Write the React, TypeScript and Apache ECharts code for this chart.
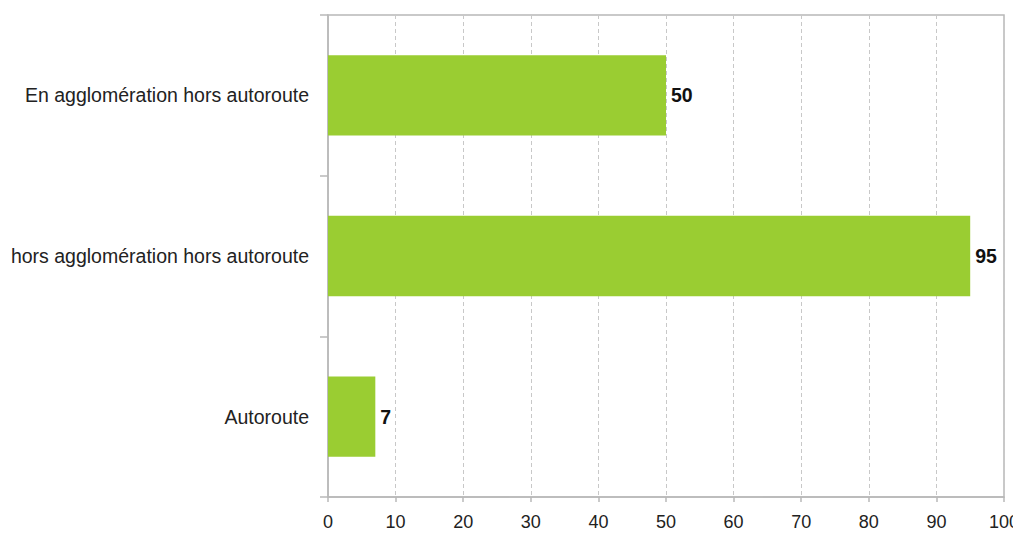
import React, { useEffect, useRef } from "react";
import * as echarts from "echarts";

const categories = ["Autoroute", "hors agglomération hors autoroute", "En agglomération hors autoroute"];
const values = [7, 95, 50];
const xTicks = { min: 0, max: 100, interval: 10 };

const FONT = "'Liberation Sans', Arial, sans-serif";

export default function App() {
  const ref = useRef<HTMLDivElement>(null);
  useEffect(() => {
    const chart = echarts.init(ref.current!, null, { renderer: "svg" });
    chart.setOption({
      animation: false,
      grid: {
        left: 328,
        right: 17,
        top: 15,
        bottom: 50,
        containLabel: false,
        outerBoundsMode: "none",
        show: true,
        borderColor: "#b8b8b8",
        borderWidth: 1.5,
      },
      xAxis: {
        type: "value",
        min: xTicks.min,
        max: xTicks.max,
        interval: xTicks.interval,
        axisLine: { show: true, lineStyle: { color: "#b8b8b8", width: 1.5 } },
        axisTick: { show: true, length: 5, lineStyle: { color: "#b8b8b8", width: 1.5 } },
        axisLabel: { color: "#222", fontSize: 18, margin: 16, fontFamily: FONT },
        splitLine: { show: true, lineStyle: { color: "#c8c8c8", type: [4, 3], width: 1 } },
      },
      yAxis: {
        type: "category",
        data: categories,
        axisLine: { show: true, lineStyle: { color: "#b8b8b8", width: 1.5 } },
        axisTick: { show: true, length: 8, lineStyle: { color: "#b8b8b8", width: 1.5 } },
        axisLabel: { color: "#222", fontSize: 19.5, margin: 19, fontFamily: FONT },
        splitLine: { show: false },
      },
      series: [
        {
          type: "bar",
          data: values,
          barWidth: "50%",
          itemStyle: { color: "#9acd32" },
          label: {
            show: true,
            position: "right",
            distance: 5,
            color: "#111",
            fontWeight: "bold",
            fontSize: 19.5,
            fontFamily: FONT,
          },
        },
      ],
    });
    return () => chart.dispose();
  }, []);
  return <div ref={ref} style={{ width: 1021, height: 547, margin: -8 }} />;
}
